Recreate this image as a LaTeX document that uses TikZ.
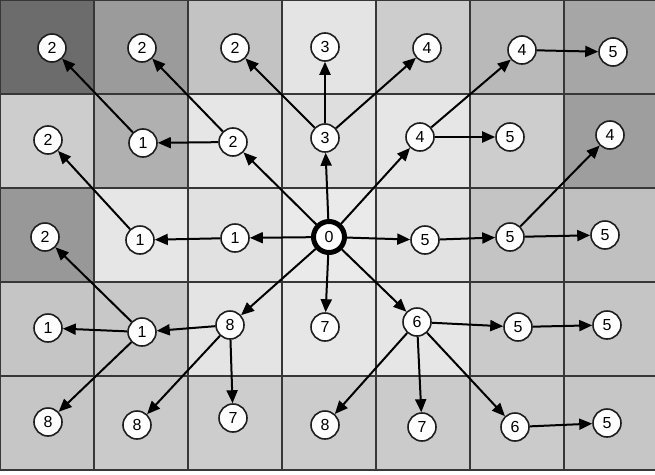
\documentclass[tikz,border=0pt]{standalone}
\usepackage{fontspec}
\setmainfont{Liberation Sans}
\usetikzlibrary{arrows.meta}
\begin{document}
\begin{tikzpicture}[x=1pt,y=-1pt,
  cell/.style={draw={rgb,255:red,55;green,55;blue,55}, line width=1.3pt},
  st/.style={circle, draw={rgb,255:red,30;green,30;blue,30}, fill=white, line width=1.6pt, minimum size=28pt, inner sep=0pt, font=\fontsize{16}{16}\selectfont},
  stz/.style={st, draw=black, line width=5pt, minimum size=31pt},
  arr/.style={-{Triangle[length=13pt,width=11pt]}, line width=2pt, draw=black}]
\useasboundingbox (0,0) rectangle (655,474);
\fill[white] (0,0) rectangle (655,474);
\foreach \i/\g in {0/108,1/155,2/195,3/228,4/205,5/185,6/166}{
  \definecolor{cc}{RGB}{\g,\g,\g}
  \filldraw[cell, fill=cc] (94*\i,0) rectangle ++(94,94);}
\foreach \i/\g in {0/205,1/176,2/230,3/222,4/230,5/205,6/158}{
  \definecolor{cc}{RGB}{\g,\g,\g}
  \filldraw[cell, fill=cc] (94*\i,94) rectangle ++(94,94);}
\foreach \i/\g in {0/152,1/230,2/225,3/234,4/226,5/196,6/192}{
  \definecolor{cc}{RGB}{\g,\g,\g}
  \filldraw[cell, fill=cc] (94*\i,188) rectangle ++(94,94);}
\foreach \i/\g in {0/197,1/200,2/228,3/230,4/230,5/202,6/197}{
  \definecolor{cc}{RGB}{\g,\g,\g}
  \filldraw[cell, fill=cc] (94*\i,282) rectangle ++(94,94);}
\foreach \i/\g in {0/198,1/202,2/205,3/204,4/203,5/203,6/198}{
  \definecolor{cc}{RGB}{\g,\g,\g}
  \filldraw[cell, fill=cc] (94*\i,376) rectangle ++(94,94);}
% nodes
\node[st] (a0) at (52,48) {2};
\node[st] (a1) at (142,48) {2};
\node[st] (a2) at (235,48) {2};
\node[st] (a3) at (325,47) {3};
\node[st] (a4) at (427,48) {4};
\node[st] (a5) at (522,50) {4};
\node[st] (a6) at (613,52) {5};
\node[st] (b0) at (48,140) {2};
\node[st] (b1) at (143,143) {1};
\node[st] (b2) at (233,142) {2};
\node[st] (b3) at (325,138) {3};
\node[st] (b4) at (420,137) {4};
\node[st] (b5) at (510,137) {5};
\node[st] (b6) at (610,135) {4};
\node[st] (c0) at (45,237) {2};
\node[st] (c1) at (140,240) {1};
\node[st] (c2) at (235,238) {1};
\node[stz] (c3) at (329,237) {0};
\node[st] (c4) at (425,240) {5};
\node[st] (c5) at (510,237) {5};
\node[st] (c6) at (605,235) {5};
\node[st] (d0) at (48,328) {1};
\node[st] (d1) at (142,332) {1};
\node[st] (d2) at (230,325) {8};
\node[st] (d3) at (325,327) {7};
\node[st] (d4) at (417,322) {6};
\node[st] (d5) at (518,327) {5};
\node[st] (d6) at (607,325) {5};
\node[st] (e0) at (48,422) {8};
\node[st] (e1) at (137,425) {8};
\node[st] (e2) at (233,418) {7};
\node[st] (e3) at (325,425) {8};
\node[st] (e4) at (422,427) {7};
\node[st] (e5) at (515,427) {6};
\node[st] (e6) at (607,423) {5};
% edges
\foreach \s/\t in {c3/c2,c2/c1,c1/b0,c3/b2,b2/b1,b2/a1,b1/a0,c3/b3,b3/a3,b3/a2,b3/a4,
  c3/b4,b4/b5,b4/a5,a5/a6,c3/c4,c4/c5,c5/c6,c5/b6,c3/d4,d4/d5,d5/d6,d4/e3,d4/e4,d4/e5,
  e5/e6,c3/d3,c3/d2,d2/d1,d2/e1,d2/e2,d1/d0,d1/e0,d1/c0}
  \draw[arr] (\s) -- (\t);
\end{tikzpicture}
\end{document}
